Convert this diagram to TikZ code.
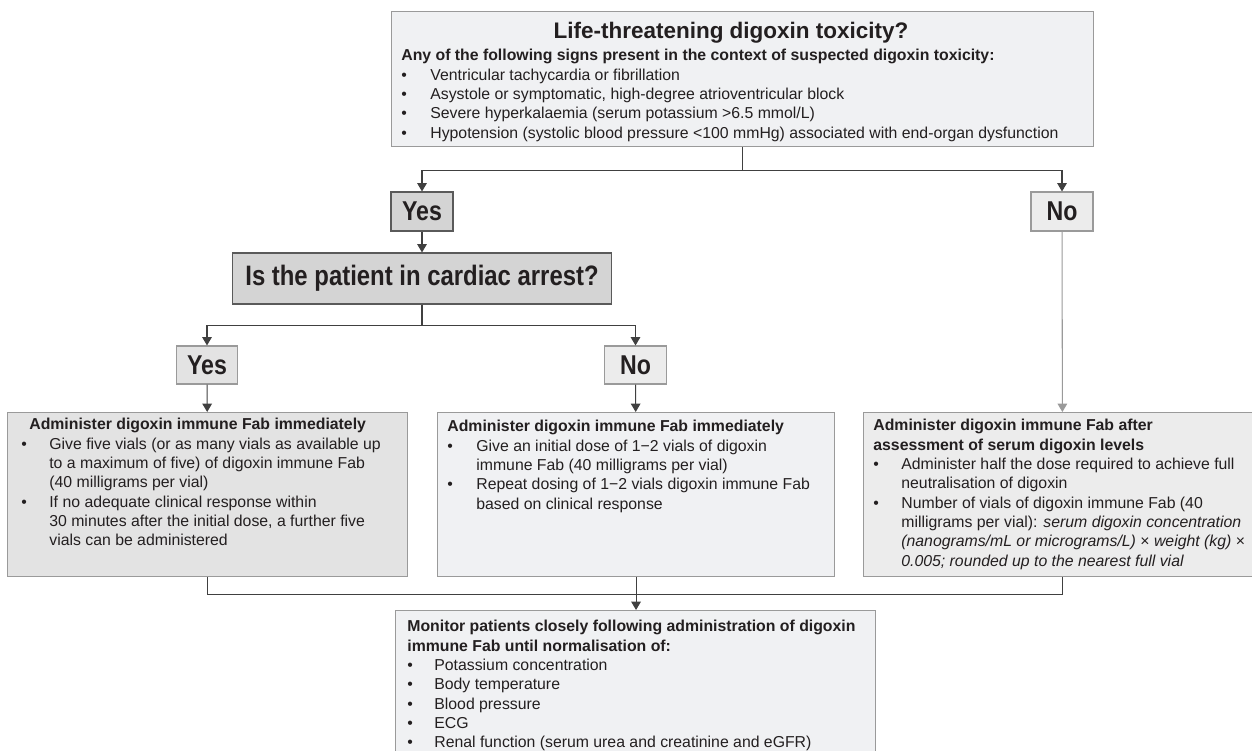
\documentclass[tikz,border=0pt]{standalone}
\usepackage{fontspec}
\setmainfont{Liberation Sans}
\newfontfamily\narrowfont[FakeStretch=0.85]{Liberation Sans}
\usetikzlibrary{arrows.meta}
\definecolor{ink}{HTML}{231F20}
\definecolor{frame}{HTML}{9A9A9A}
\definecolor{darkframe}{HTML}{5A5A5A}
\definecolor{wire}{HTML}{404040}
\definecolor{wirelt}{HTML}{9A9A9A}
\definecolor{pale}{HTML}{F0F1F3}
\definecolor{light}{HTML}{ECECEC}
\definecolor{soft}{HTML}{E3E3E3}
\definecolor{mid}{HTML}{D4D4D4}

\begin{document}
\begin{tikzpicture}[
  box/.style={draw=frame, line width=0.6pt, anchor=north west, inner sep=0pt},
  tag/.style={draw=frame, line width=0.6pt, inner sep=0pt, text=ink, font=\narrowfont\fontsize{15.5}{18}\selectfont\bfseries},
  txt/.style={anchor=north west, inner sep=0pt, text=ink, font=\fontsize{9}{11}\selectfont},
  arrow/.style={-{Triangle[width=5.5pt,length=4.8pt]}, line width=0.6pt, draw=wire},
  arrowlt/.style={arrow, draw=wirelt},
  line/.style={line width=0.6pt, draw=wire}
]
\clip (0,0) rectangle (25.04,-15.02);

\node[box, fill=pale, minimum width=14.04cm, minimum height=2.70cm] (tox) at (7.82,-0.22) {};
\node[text=ink, inner sep=0pt, font=\bfseries\fontsize{12.8}{15}\selectfont] (title) at (14.62,-0.66) {Life-threatening digoxin toxicity?};
\node[txt] (signs) at (8.02,-0.94) {\begin{tabular}{@{}p{0.58cm}@{}l@{}}
  \multicolumn{2}{@{}l@{}}{\textbf{Any of the following signs present in the context of suspected digoxin toxicity:}}\\
  \textbullet & Ventricular tachycardia or fibrillation\\
  \textbullet & Asystole or symptomatic, high-degree atrioventricular block\\
  \textbullet & Severe hyperkalaemia (serum potassium >6.5 mmol/L)\\
  \textbullet & Hypotension (systolic blood pressure <100 mmHg) associated with end-organ dysfunction
\end{tabular}};

\node[tag, draw=darkframe, fill=mid, minimum width=1.24cm, minimum height=0.78cm] (yes1) at (8.44,-4.23) {Yes};
\node[tag, fill=light, minimum width=1.24cm, minimum height=0.78cm] (no1) at (21.24,-4.23) {No};
\node[tag, draw=darkframe, fill=mid, minimum width=7.58cm, minimum height=1.02cm, font=\narrowfont\fontsize{16}{19}\selectfont\bfseries] (arrest) at (8.44,-5.57) {Is the patient in cardiac arrest?};
\node[tag, fill=soft, minimum width=1.22cm, minimum height=0.76cm] (yes2) at (4.14,-7.30) {Yes};
\node[tag, fill=light, minimum width=1.24cm, minimum height=0.76cm] (no2) at (12.71,-7.30) {No};

\node[box, fill=soft, minimum width=8.0cm, minimum height=3.28cm] (fabL) at (0.14,-8.24) {};
\node[txt] (fabLtxt) at (0.42,-8.32) {\begin{tabular}{@{}p{0.56cm}@{}l@{}}
  \multicolumn{2}{@{}l@{}}{\hspace*{0.16cm}\textbf{Administer digoxin immune Fab immediately}}\\
  \textbullet & Give five vials (or as many vials as available up\\
  & to a maximum of five) of digoxin immune Fab\\
  & (40 milligrams per vial)\\
  \textbullet & If no adequate clinical response within\\
  & 30 minutes after the initial dose, a further five\\
  & vials can be administered
\end{tabular}};

\node[box, fill=pale, minimum width=7.94cm, minimum height=3.28cm] (fabM) at (8.74,-8.24) {};
\node[txt] (fabMtxt) at (8.94,-8.36) {\begin{tabular}{@{}p{0.58cm}@{}l@{}}
  \multicolumn{2}{@{}l@{}}{\textbf{Administer digoxin immune Fab immediately}}\\
  \textbullet & Give an initial dose of 1−2 vials of digoxin\\
  & immune Fab (40 milligrams per vial)\\
  \textbullet & Repeat dosing of 1−2 vials digoxin immune Fab\\
  & based on clinical response
\end{tabular}};

\node[box, fill=light, minimum width=7.96cm, minimum height=3.28cm] (fabR) at (17.26,-8.24) {};
\node[txt] (fabRtxt) at (17.46,-8.34) {\begin{tabular}{@{}p{0.56cm}@{}l@{}}
  \multicolumn{2}{@{}l@{}}{\textbf{Administer digoxin immune Fab after}}\\
  \multicolumn{2}{@{}l@{}}{\textbf{assessment of serum digoxin levels}}\\
  \textbullet & Administer half the dose required to achieve full\\
  & neutralisation of digoxin\\
  \textbullet & Number of vials of digoxin immune Fab (40\\
  & milligrams per vial): \textit{serum digoxin concentration}\\
  & \textit{(nanograms/mL or micrograms/L)} × \textit{weight (kg)} ×\\
  & \textit{0.005; rounded up to the nearest full vial}
\end{tabular}};

\node[box, fill=pale, minimum width=9.6cm, minimum height=3.3cm] (mon) at (7.90,-12.20) {};
\node[txt] (montxt) at (8.14,-12.36) {\begin{tabular}{@{}p{0.54cm}@{}l@{}}
  \multicolumn{2}{@{}l@{}}{\textbf{Monitor patients closely following administration of digoxin}}\\
  \multicolumn{2}{@{}l@{}}{\textbf{immune Fab until normalisation of:}}\\
  \textbullet & Potassium concentration\\
  \textbullet & Body temperature\\
  \textbullet & Blood pressure\\
  \textbullet & ECG\\
  \textbullet & Renal function (serum urea and creatinine and eGFR)
\end{tabular}};

\draw[arrow] (tox.south) -- ++(0,-0.46) -| (yes1);
\draw[arrow] (tox.south) -- ++(0,-0.46) -| (no1);
\draw[arrow] (yes1) -- (arrest);
\draw[arrow] (arrest.south) -- ++(0,-0.42) -| (yes2);
\draw[arrow] (arrest.south) -- ++(0,-0.42) -| (no2);
\draw[arrow] (yes2) -- (fabL);
\draw[arrow] (no2) -- (fabM);
\draw[arrowlt] (no1) -- (fabR);
\draw[line] (fabL.south) -- ++(0,-0.34) -| (fabR.south);
\draw[arrow] (fabM.south) -- (fabM.south |- mon.north);
\end{tikzpicture}
\end{document}
